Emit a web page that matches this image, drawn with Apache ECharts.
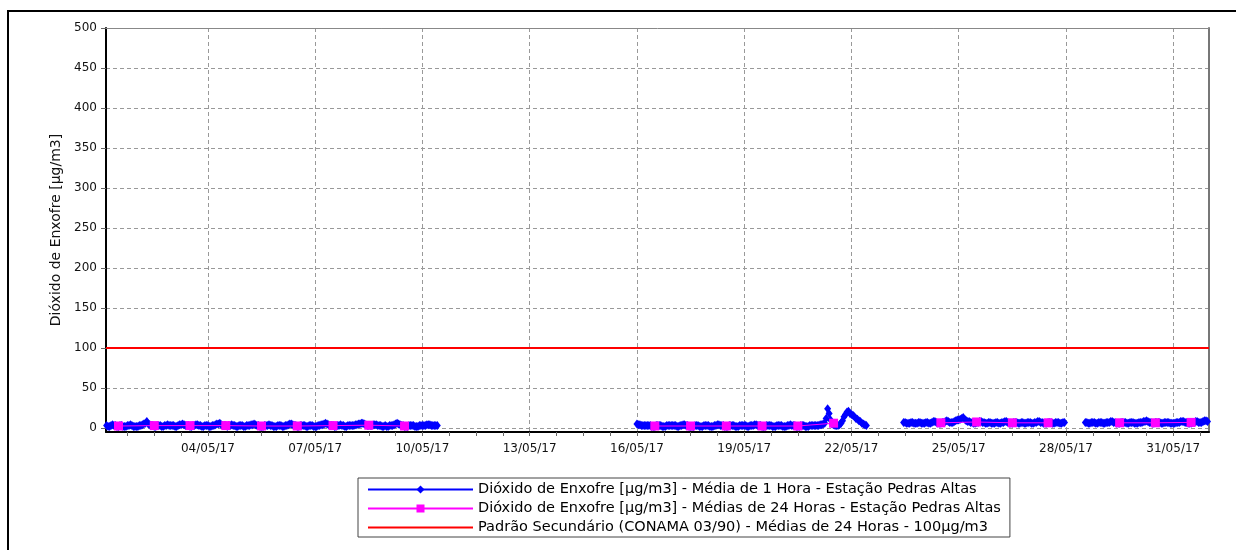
<!DOCTYPE html>
<html>
<head>
<meta charset="utf-8">
<title>Dióxido de Enxofre - Estação Pedras Altas</title>
<script src="https://cdn.jsdelivr.net/npm/echarts@6/dist/echarts.min.js"></script>
<style>
  html, body { margin: 0; padding: 0; background: #fff; }
  #chart { width: 1236px; height: 550px; }
</style>
</head>
<body>
<div id="chart"></div>
<script>
  // eixo x = dia de maio/2017 (fração do dia = hora / 24)
  const tickDays = [4, 7, 10, 13, 16, 19, 22, 25, 28, 31];
  const yTicks = [0, 50, 100, 150, 200, 250, 300, 350, 400, 450, 500];

  // médias de 1 hora, cada bloco começa em [dia, hora]
  const hourlyStart = [[1, 4], [16, 0], [23, 11], [28, 13]];
  const hourly1 = [
    3, 2, 2, 3, 4, 3, 3, 2, 2, 3, 3, 2, 2, 2, 3, 3, 4, 3, 2, 2,
    2, 2, 3, 3, 4, 5, 6, 8, 5, 4, 3, 3, 2, 2, 3, 3, 3, 2, 2, 3, 3, 4, 3, 3,
    3, 3, 2, 2, 3, 4, 4, 5, 4, 3, 3, 3, 2, 2, 3, 3, 4, 4, 3, 3, 2, 2, 3, 3,
    3, 2, 2, 3, 3, 4, 5, 5, 6, 4, 3, 3, 3, 2, 3, 3, 4, 3, 3, 2, 2, 3, 3, 3,
    2, 2, 3, 3, 3, 4, 4, 5, 4, 3, 3, 2, 2, 2, 3, 3, 3, 4, 3, 3, 2, 2, 2, 3,
    3, 3, 2, 2, 3, 3, 4, 5, 5, 4, 3, 3, 2, 2, 3, 3, 3, 3, 2, 2, 3, 3, 3, 2,
    2, 2, 3, 3, 4, 4, 5, 6, 5, 4, 3, 3, 3, 2, 2, 3, 3, 4, 3, 3, 2, 2, 3, 3,
    3, 3, 3, 4, 4, 5, 5, 6, 6, 5, 4, 3, 3, 3, 3, 4, 4, 4, 3, 3, 3, 2, 2, 3,
    2, 2, 3, 3, 3, 4, 5, 6, 5, 4, 3, 3, 2, 2, 2, 3, 3, 3, 3, 2, 2, 2, 3, 3,
    3, 3, 3, 4, 4, 4, 3, 3, 3, 3, 3
  ];
  const hourly2 = [
    5, 4, 4, 3, 3, 3, 3, 3, 3, 3, 2, 2, 2, 3, 3, 3, 3, 2, 2, 2, 3, 3, 3, 3,
    3, 3, 3, 2, 2, 3, 3, 4, 4, 3, 3, 2, 2, 2, 2, 3, 3, 3, 2, 2, 2, 3, 3, 3,
    3, 2, 2, 2, 3, 3, 4, 4, 3, 3, 3, 2, 2, 2, 3, 3, 3, 3, 2, 2, 2, 3, 3, 3,
    3, 3, 2, 2, 3, 3, 3, 4, 4, 3, 3, 3, 2, 2, 2, 3, 3, 3, 3, 2, 2, 2, 3, 3,
    3, 3, 2, 2, 2, 3, 3, 4, 3, 3, 3, 2, 2, 2, 3, 3, 3, 2, 2, 2, 3, 3, 3, 3,
    3, 3, 3, 4, 4, 5, 6, 12, 24, 18, 10, 5, 4, 3, 3, 3, 4, 6, 9, 14, 17, 20, 21, 18,
    17, 16, 14, 12, 11, 9, 8, 6, 5, 4, 3
  ];
  const hourly3 = [
    7, 7, 6, 6, 6, 7, 7, 6, 6, 6, 7, 7, 6,
    6, 6, 7, 7, 6, 6, 7, 8, 8, 7, 6, 6, 6, 7, 7, 8, 9, 8, 7, 7, 7, 8, 9, 10,
    10, 11, 12, 13, 11, 9, 8, 8, 7, 7, 6, 6, 7, 7, 8, 8, 7, 7, 6, 6, 7, 7, 6, 6,
    6, 7, 7, 6, 6, 7, 7, 8, 8, 7, 6, 6, 6, 7, 7, 7, 6, 6, 7, 7, 6, 6, 7, 7,
    7, 6, 6, 7, 7, 8, 8, 7, 7, 6, 6, 6, 7, 7, 7, 6, 6, 7, 7, 7, 6, 6, 7, 7
  ];
  const hourly4 = [
    7, 7, 6, 6, 7, 7, 7, 6, 6, 7, 7,
    7, 6, 6, 7, 7, 7, 8, 8, 7, 7, 6, 6, 6, 7, 7, 7, 7, 6, 6, 7, 7, 7, 6, 6,
    6, 7, 7, 7, 8, 8, 9, 8, 7, 7, 6, 6, 7, 7, 7, 7, 6, 6, 7, 7, 7, 7, 6, 6,
    6, 6, 7, 7, 7, 8, 8, 8, 7, 7, 6, 6, 6, 7, 7, 8, 8, 7, 7, 7, 8, 9, 9, 8
  ];

  // médias de 24 horas (null = dia sem média válida)
  const dailyDays = [1, 2, 3, 4, 5, 6, 7, 8, 9, 10, 11, 12, 13, 14, 15, 16,
    17, 18, 19, 20, 21, 22, 23, 24, 25, 26, 27, 28, 29, 30, 31];
  const dailyMeans = [2.5, 3, 3, 3, 2.5, 2.5, 3, 3.5, 2.5, null, null, null, null, null, null, 2.5,
    2.5, 2.5, 2.5, 2.5, 6, null, null, 6.5, 7.5, 6.5, 6.5, null, 6.5, 6.5, 7];

  const padrao = 100;

  const nomes = [
    'Dióxido de Enxofre [µg/m3] - Média de 1 Hora - Estação Pedras Altas',
    'Dióxido de Enxofre [µg/m3] - Médias de 24 Horas - Estação Pedras Altas',
    'Padrão Secundário (CONAMA 03/90) - Médias de 24 Horas - 100µg/m3'
  ];

  const xMin = 1 + 3.6 / 24;
  const xMax = 32;
  const fonte = '"DejaVu Sans", Verdana, sans-serif';

  // monta os pontos horários, com quebra entre os blocos
  const hourlyData = [];
  [hourly1, hourly2, hourly3, hourly4].forEach((vals, b) => {
    const d = hourlyStart[b][0], h = hourlyStart[b][1];
    vals.forEach((v, i) => hourlyData.push([d + (h + i) / 24, v]));
    hourlyData.push([d + (h + vals.length) / 24, null]);
  });
  const dailyData = dailyDays.map((d, i) => [d + 0.5, dailyMeans[i]]);

  // marcas menores: 4 divisões entre datas
  const minorTicks = [];
  for (let i = 0; i < tickDays.length; i++) {
    for (let k = 0; k < 4; k++) {
      const t = tickDays[i] - 3 + k * 0.75;
      if (t >= xMin) minorTicks.push(t);
    }
  }
  minorTicks.push(tickDays[tickDays.length - 1], tickDays[tickDays.length - 1] + 0.75);

  const pad = n => (n < 10 ? '0' : '') + n;

  const myChart = echarts.init(document.getElementById('chart'));
  const option = {
    animation: false,
    textStyle: { fontFamily: fonte },
    graphic: [{
      type: 'rect',
      silent: true,
      z: -10,
      shape: { x: 8, y: 11, width: 1250, height: 560 },
      style: { fill: 'none', stroke: '#000', lineWidth: 2 }
    }],
    grid: { left: 106, top: 28, right: 27, bottom: 118, containLabel: false },
    legend: {
      orient: 'vertical',
      left: 358,
      top: 478,
      itemWidth: 105,
      itemHeight: 10,
      itemGap: 4,
      padding: [4, 9, 2, 9],
      borderColor: '#444',
      borderWidth: 1,
      borderRadius: 0,
      selectedMode: false,
      textStyle: { fontFamily: fonte, fontSize: 14.5, color: '#000' },
      data: [nomes[0], nomes[1], { name: nomes[2], itemStyle: { opacity: 0 } }]
    },
    xAxis: [
      {
        type: 'value', min: xMin, max: xMax, position: 'bottom',
        axisLine: { onZero: false, lineStyle: { color: '#000', width: 2 } },
        axisTick: { customValues: minorTicks, length: 4, lineStyle: { color: '#666' } },
        axisLabel: {
          customValues: tickDays, margin: 11, fontSize: 12, color: '#111', fontFamily: fonte,
          formatter: v => pad(Math.round(v)) + '/05/17'
        },
        splitLine: { show: false }
      },
      {
        type: 'value', min: xMin, max: xMax, position: 'bottom',
        axisLine: { show: false },
        axisTick: { show: false, customValues: tickDays },
        axisLabel: { show: false },
        splitLine: { show: true, lineStyle: { color: '#999', type: [4, 3], width: 1 } }
      },
      {
        type: 'value', min: xMin, max: xMax, position: 'top',
        axisLine: { onZero: false, lineStyle: { color: '#888', width: 1 } },
        axisTick: { show: false }, axisLabel: { show: false }, splitLine: { show: false }
      }
    ],
    yAxis: [
      {
        type: 'value', min: -5, max: 500,
        name: 'Dióxido de Enxofre [µg/m3]',
        nameLocation: 'middle', nameGap: 43, nameRotate: 90,
        nameTextStyle: { fontFamily: fonte, fontSize: 14, color: '#111' },
        axisLine: { onZero: false, lineStyle: { color: '#000', width: 2 } },
        axisTick: { customValues: yTicks, length: 5, lineStyle: { color: '#666' } },
        axisLabel: { customValues: yTicks, margin: 9, fontSize: 12, color: '#111', fontFamily: fonte },
        splitLine: { show: true, lineStyle: { color: '#999', type: [4, 3], width: 1 } }
      },
      {
        type: 'value', min: -5, max: 500, position: 'right',
        axisLine: { show: true, onZero: false, lineStyle: { color: '#777', width: 2 } },
        axisTick: { show: false }, axisLabel: { show: false }, splitLine: { show: false }
      }
    ],
    series: [
      {
        name: nomes[0],
        type: 'line',
        data: hourlyData,
        color: '#0000ff',
        symbol: 'diamond',
        symbolSize: [7, 9],
        showSymbol: true,
        showAllSymbol: true,
        connectNulls: false,
        lineStyle: { width: 1, color: '#0000ff' },
        itemStyle: { color: '#0000ff' },
        z: 3
      },
      {
        name: nomes[1],
        type: 'line',
        data: dailyData,
        color: '#ff00ff',
        symbol: 'rect',
        symbolSize: 9,
        showSymbol: true,
        connectNulls: false,
        lineStyle: { width: 1, color: '#ff00ff' },
        itemStyle: { color: '#ff00ff' },
        z: 4
      },
      {
        name: nomes[2],
        type: 'line',
        data: [],
        color: '#ff0000',
        symbol: 'none',
        lineStyle: { width: 2, color: '#ff0000' },
        markLine: {
          silent: true,
          symbol: ['none', 'none'],
          label: { show: false },
          lineStyle: { color: '#ff0000', width: 2, type: 'solid' },
          data: [{ yAxis: padrao }]
        },
        z: 2
      }
    ]
  };
  myChart.setOption(option);
</script>
</body>
</html>
